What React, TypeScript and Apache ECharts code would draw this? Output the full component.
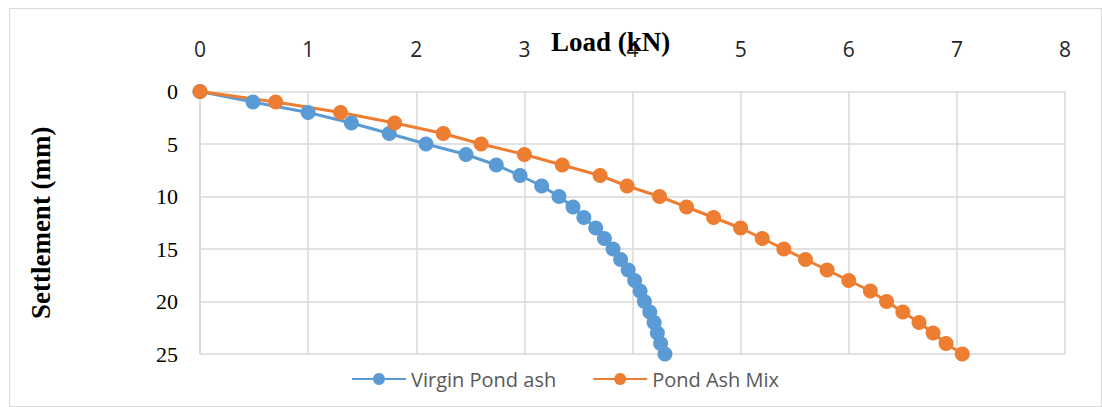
import React, { useEffect, useRef } from "react";
import * as echarts from "echarts";

const settlement = [0, 1, 2, 3, 4, 5, 6, 7, 8, 9, 10, 11, 12, 13, 14, 15, 16, 17, 18, 19, 20, 21, 22, 23, 24, 25];
const virginLoad = [0, 0.49, 1.0, 1.4, 1.75, 2.09, 2.46, 2.74, 2.96, 3.16, 3.32, 3.45, 3.55, 3.66, 3.74, 3.82, 3.89, 3.96, 4.02, 4.07, 4.11, 4.16, 4.2, 4.23, 4.26, 4.3];
const mixLoad = [0, 0.7, 1.3, 1.8, 2.25, 2.6, 3.0, 3.35, 3.7, 3.95, 4.25, 4.5, 4.75, 5.0, 5.2, 5.4, 5.6, 5.8, 6.0, 6.2, 6.35, 6.5, 6.65, 6.78, 6.9, 7.05];
const seriesNames = ["Virgin Pond ash", "Pond Ash Mix"];

export default function App() {
  const ref = useRef<HTMLDivElement>(null);
  useEffect(() => {
    if (!ref.current) return;
    const chart = echarts.init(ref.current, null, { renderer: "svg" });
    const mk = (name: string, xs: number[], color: string) => ({
      name,
      type: "line",
      data: xs.map((x, i) => [x, settlement[i]]),
      symbol: "circle",
      symbolSize: 15,
      lineStyle: { color, width: 3 },
      itemStyle: { color },
      color,
    });
    chart.setOption({
      animation: false,
      grid: { left: 200, right: 37, top: 91.5, bottom: 53 },
      graphic: [
        {
          type: "text",
          left: 551,
          top: 28,
          style: { text: "Load (kN)", font: "bold 27px 'Liberation Serif'", fill: "#000" },
          z: 100,
        },
      ],
      legend: {
        left: 346,
        top: 364,
        itemWidth: 54,
        itemHeight: 15,
        itemGap: 36,
        textStyle: { color: "#595959", fontSize: 20, fontFamily: "'Open Sans', 'Noto Sans'" },
        data: seriesNames,
      },
      xAxis: {
        type: "value",
        position: "top",
        min: 0,
        max: 8,
        interval: 1,
        axisLine: { show: false },
        axisTick: { show: false },
        splitLine: { lineStyle: { color: "#d9d9d9", width: 1.5 } },
        axisLabel: { margin: 32, fontSize: 21, color: "#262626", fontFamily: "'Open Sans', 'Noto Sans'" },
      },
      yAxis: {
        type: "value",
        inverse: true,
        min: 0,
        max: 25,
        interval: 5,
        name: "Settlement (mm)",
        nameLocation: "middle",
        nameRotate: 90,
        nameGap: 146,
        nameTextStyle: { fontSize: 27, fontWeight: "bold", fontFamily: "'Liberation Serif'", color: "#000" },
        axisLine: { show: true, lineStyle: { color: "#d9d9d9", width: 1.5 } },
        axisTick: { show: false },
        splitLine: { lineStyle: { color: "#d9d9d9", width: 1.5 } },
        axisLabel: { margin: 22, fontSize: 22, color: "#000", fontFamily: "'Liberation Serif'" },
      },
      series: [mk(seriesNames[0], virginLoad, "#5B9BD5"), mk(seriesNames[1], mixLoad, "#ED7D31")],
    });
    return () => chart.dispose();
  }, []);
  return (
    <div style={{ position: "fixed", left: 0, top: 0, width: 1102, height: 407, background: "#fff" }}>
      <div
        style={{
          position: "absolute",
          left: 9,
          top: 8,
          width: 1102 - 9,
          height: 407 - 8,
          border: "1px solid #d9d9d9",
          boxSizing: "border-box",
        }}
      />
      <div ref={ref} style={{ position: "absolute", left: 0, top: 0, width: 1102, height: 407 }} />
    </div>
  );
}
